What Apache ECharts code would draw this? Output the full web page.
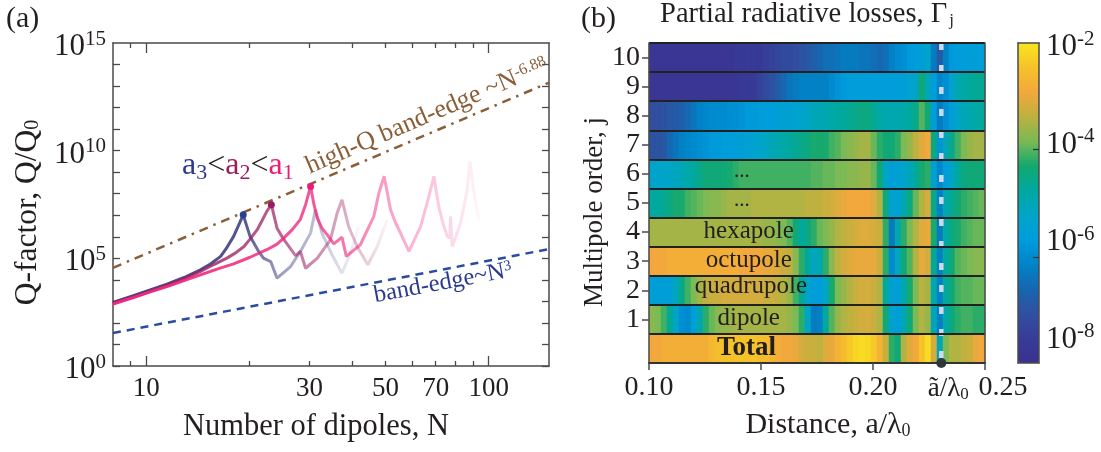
<!DOCTYPE html>
<html><head><meta charset="utf-8">
<style>html,body{margin:0;padding:0;background:#fff}#c{width:1101px;height:452px}</style>
<script src="https://cdn.jsdelivr.net/npm/echarts@6/dist/echarts.min.js"></script>
</head><body><div id="c"></div>
<script>
// ---------- panel (a) data: N and log10(Q/Q0) ----------
const a1N=[8,9.18,10.27,11.5,12.9,14.4,16.1,18.0,20.1,22.5,24.1,25.2,26.7,28.2,29.2,30.2,30.9,31.6,32.6,33.8,35.3,37.3,38.4,42.2,46.2,47.8,49.5,50.6,51.7,53.5,55.3,58.5,63.3,66.9,69.2,70.4,71.5,73.5,75.7,77.0,77.4,78.3,82.8,86.6,88.2,90.6,93.7];
const a1LogQ=[2.88,3.18,3.44,3.69,3.97,4.23,4.50,4.74,5.05,5.40,5.66,5.94,6.33,6.81,7.49,8.34,7.49,6.87,6.40,6.09,5.67,5.98,5.09,5.63,6.95,8.03,8.81,8.03,7.26,6.64,6.17,5.32,6.48,7.88,8.81,8.03,7.41,6.64,6.02,5.94,6.95,5.55,6.64,8.19,9.50,8.03,6.79];
const a2N=[8,9.60,11.5,12.9,14.4,15.7,17.2,18.2,19.3,20.1,21.1,21.8,22.5,23.2,24.1,24.9,25.5,27.3,28.2,29.2,31.6,34.5,36.1,37.3,39.0,41.3,44.4,47.3,50.6];
const a2LogQ=[2.91,3.30,3.74,4.05,4.39,4.70,5.01,5.24,5.55,5.89,6.33,6.76,7.18,7.49,6.40,6.02,5.78,5.12,5.32,4.54,5.01,5.86,7.10,7.72,6.48,5.55,4.70,5.55,6.79];
const a3N=[8,9.18,10.27,11.5,12.9,14.4,15.4,16.5,17.2,18.0,19.2,20.1,21.3,22.0,23.1,24.1,26.4,28.2,30.2,31.2,32.6,34.9,37.3,39.5,41.8];
const a3LogQ=[2.95,3.27,3.53,3.80,4.11,4.47,4.74,5.09,5.50,6.02,7.02,6.02,5.32,5.01,4.85,4.08,4.62,5.32,6.17,7.26,6.17,5.16,4.31,5.24,6.48];
const highQN=[8,150];
const highQLogQ=[4.56,13.16];
const bandEdgeN=[8,150];
const bandEdgeLogQ=[1.53,5.43];
const peakN=[19.2,23.2,30.2];
const peakLogQ=[7.02,7.49,8.34];
const xMajorTicks=[10,100];
const xMinorTicks=[9,20,30,40,50,60,70,80,90];
const xTickLabels=[10,30,50,70,100];
const yTickValues=[1,1e1,1e2,1e3,1e4,1e5,1e6,1e7,1e8,1e9,1e10,1e11,1e12,1e13,1e14];
const yTickLabels=[1,1e5,1e10,9.999e14];
// ---------- panel (b) data: log10(Gamma_j), one row per multipole order, 56 columns ----------
const rowNames=['Total','1','2','3','4','5','6','7','8','9','10'];
const rowTotal=[-3.0,-3.0,-2.9,-2.9,-2.9,-2.9,-2.9,-2.9,-2.9,-2.9,-2.7,-2.6,-2.5,-2.5,-2.5,-2.5,-2.5,-2.5,-2.6,-2.6,-2.8,-2.9,-3.0,-3.0,-3.1,-3.3,-3.4,-3.4,-3.5,-3.2,-3.1,-2.8,-2.6,-2.4,-2.2,-2.15,-2.2,-2.4,-2.8,-3.4,-4.4,-4.6,-3.6,-3.2,-3.0,-2.5,-2.15,-3.3,-5.3,-4.0,-3.6,-3.6,-3.5,-3.4,-3.1,-3.0];
const row1=[-3.9,-4.0,-4.3,-4.9,-5.5,-6.3,-6.4,-5.9,-5.2,-4.4,-4.1,-3.9,-3.8,-3.8,-3.7,-3.7,-3.7,-3.7,-3.7,-3.7,-3.7,-3.7,-3.7,-3.8,-4.0,-4.4,-5.5,-6.7,-6.6,-5.0,-4.2,-3.8,-3.6,-3.5,-3.4,-3.3,-3.3,-3.4,-3.6,-4.6,-5.7,-5.9,-5.3,-4.6,-4.0,-3.6,-3.8,-5.3,-6.6,-5.1,-4.7,-4.4,-4.3,-4.3,-4.4,-4.4];
const row2=[-5.9,-5.9,-5.9,-5.9,-5.4,-4.8,-4.3,-4.0,-3.7,-3.5,-3.4,-3.4,-3.3,-3.3,-3.3,-3.3,-3.3,-3.3,-3.3,-3.4,-3.4,-3.5,-3.6,-3.8,-4.3,-4.9,-5.6,-6.0,-6.0,-5.5,-4.5,-4.0,-3.8,-3.6,-3.4,-3.3,-3.3,-3.4,-3.6,-5.0,-5.8,-5.9,-5.2,-4.5,-4.0,-3.5,-3.7,-5.2,-6.6,-5.0,-4.6,-4.3,-4.2,-4.2,-4.1,-4.1];
const row3=[-3.0,-3.0,-3.0,-2.9,-2.9,-2.9,-2.9,-2.9,-2.9,-2.9,-2.9,-2.9,-2.9,-2.9,-2.9,-3.0,-3.0,-3.0,-3.0,-3.1,-3.1,-3.2,-3.4,-3.5,-3.9,-4.4,-5.0,-5.4,-5.2,-4.4,-3.9,-3.5,-3.3,-3.2,-3.1,-3.1,-3.1,-3.1,-3.4,-4.4,-6.4,-5.4,-4.6,-4.2,-3.6,-3.1,-3.3,-4.9,-6.6,-5.0,-4.6,-4.2,-4.1,-4.0,-3.9,-3.9];
const row4=[-3.7,-3.7,-3.7,-3.7,-3.7,-3.7,-3.7,-3.7,-3.7,-3.7,-3.7,-3.7,-3.7,-3.7,-3.7,-3.7,-3.7,-3.7,-3.7,-3.8,-3.8,-3.9,-4.0,-4.2,-4.6,-5.0,-4.7,-4.4,-4.1,-4.0,-3.8,-3.6,-3.5,-3.4,-3.3,-3.2,-3.2,-3.3,-3.4,-4.4,-6.7,-5.2,-4.4,-4.0,-3.6,-3.2,-3.1,-4.5,-6.7,-5.1,-4.7,-4.5,-4.3,-4.2,-4.1,-4.1];
const row5=[-5.0,-5.0,-4.9,-4.7,-4.5,-4.5,-4.3,-4.2,-4.1,-4.0,-3.9,-3.9,-3.8,-3.7,-3.7,-3.7,-3.7,-3.6,-3.6,-3.6,-3.6,-3.6,-3.6,-3.6,-3.6,-3.6,-3.5,-3.5,-3.5,-3.4,-3.3,-3.2,-3.1,-3.0,-3.0,-3.0,-3.0,-3.2,-3.6,-4.7,-5.7,-5.8,-5.2,-4.7,-4.1,-3.6,-3.3,-4.8,-6.6,-5.2,-4.9,-4.6,-4.4,-4.3,-4.2,-4.1];
const row6=[-5.6,-5.6,-5.6,-5.5,-5.4,-5.3,-5.1,-5.0,-4.8,-4.6,-4.6,-4.6,-4.6,-4.5,-4.4,-4.3,-4.3,-4.3,-4.3,-4.3,-4.3,-4.3,-4.3,-4.3,-4.3,-4.3,-4.3,-4.2,-4.2,-4.1,-4.1,-4.0,-4.0,-3.9,-3.9,-3.8,-3.8,-4.1,-4.6,-5.5,-5.9,-5.8,-5.6,-5.3,-5.0,-4.5,-4.4,-5.8,-6.5,-6.0,-5.5,-5.0,-4.7,-4.6,-4.6,-4.6];
const row7=[-7.5,-7.5,-7.4,-7.0,-6.8,-6.6,-6.5,-6.4,-6.3,-6.2,-6.1,-6.1,-6.0,-6.0,-5.9,-5.9,-5.8,-5.7,-5.6,-5.5,-5.3,-5.2,-5.1,-5.0,-4.9,-4.8,-4.7,-4.5,-4.5,-4.5,-4.3,-4.2,-4.0,-3.9,-3.8,-3.7,-3.7,-4.1,-4.4,-4.6,-4.6,-4.4,-4.0,-3.8,-3.5,-3.2,-3.0,-4.7,-6.2,-5.3,-4.8,-4.3,-4.0,-3.8,-3.7,-3.7];
const row8=[-7.6,-7.6,-7.5,-7.4,-7.3,-7.2,-7.0,-6.8,-6.6,-6.5,-6.4,-6.4,-6.4,-6.3,-6.3,-6.2,-6.1,-6.1,-6.0,-6.0,-6.0,-5.9,-5.8,-5.8,-5.7,-5.6,-5.5,-5.3,-5.3,-5.2,-5.1,-5.0,-5.0,-4.9,-4.8,-4.7,-4.7,-4.9,-5.1,-5.2,-5.2,-5.2,-5.1,-5.0,-4.8,-4.2,-4.6,-6.0,-6.7,-6.3,-5.9,-5.5,-5.3,-5.2,-5.1,-5.0];
const row9=[-8.3,-8.3,-8.3,-8.3,-8.3,-8.3,-8.3,-8.3,-8.3,-8.3,-8.3,-8.3,-8.3,-8.3,-8.3,-8.2,-8.2,-8.1,-7.9,-7.7,-7.5,-7.3,-7.0,-6.8,-6.7,-6.6,-6.6,-6.6,-6.6,-6.6,-6.4,-6.2,-6.1,-6.0,-6.0,-6.0,-6.0,-6.0,-6.0,-6.0,-6.0,-5.9,-5.9,-5.7,-5.5,-4.6,-5.3,-6.0,-6.5,-6.3,-5.7,-5.2,-5.1,-5.0,-4.9,-4.9];
const row10=[-8.3,-8.3,-8.3,-8.3,-8.3,-8.3,-8.3,-8.3,-8.3,-8.3,-8.3,-8.3,-8.3,-8.3,-8.2,-8.2,-8.1,-8.1,-8.2,-8.0,-7.9,-7.8,-7.7,-7.7,-7.6,-7.5,-7.4,-7.2,-7.1,-6.9,-6.9,-6.8,-6.7,-6.7,-6.7,-6.8,-6.8,-6.9,-7.0,-6.9,-6.6,-6.4,-6.3,-6.1,-6.0,-5.9,-5.6,-6.7,-7.3,-6.6,-6.1,-6.0,-6.0,-5.9,-5.9,-5.9];
const heatRows=[rowTotal,row1,row2,row3,row4,row5,row6,row7,row8,row9,row10];
const rowLabelText=['Total','dipole','quadrupole','octupole','hexapole','...','...'];
const rowLabelX=[0.1435,0.1445,0.1455,0.1445,0.1445,0.1415,0.1415];
const rowLabelY=[0.53,1.53,2.62,3.53,4.53,5.6,6.6];
const heatXTicks=[0.10,0.15,0.20,0.25];
const heatXLabels=[0.10,0.15,0.20,0.2305,0.25];
const aTilde=0.2305;
const cbLabels=[-8,-6,-4,-2];
const cbExtraTicks=[-6.39,-4.17];
const cbMin=-8.56, cbMax=-2;
const parula=['#3b3090','#373c98','#30509f','#1666b0','#0084c8','#009cdc','#00a5c8','#00a8a0','#12a86e','#79ba55','#bdb13f','#f2a83c','#f6c22a','#f9e51f'];

// ---------- helpers ----------
const FF='"Liberation Serif","Times New Roman",serif';
const INK='#231f20', AX='#4a4a4a';
const zip=(x,l)=>x.map((v,i)=>[v,Math.pow(10,l[i])]);
const supRich={b:{fontFamily:FF,fontSize:31,color:INK,padding:[8,0,0,0]},s:{fontFamily:FF,fontSize:21,color:INK,padding:[0,0,8,0]}};
const heatData=[];
const colCount=rowTotal.length;
const heatCats=[];
for(let c=0;c<colCount;c++)heatCats.push(c);
heatRows.forEach((r,j)=>r.forEach((v,i)=>heatData.push([i,j,v])));
const fade=(rgb,stops)=>({type:'linear',x:0,y:0,x2:1,y2:0,colorStops:stops.map(s=>({offset:s[0],color:'rgba('+rgb+','+s[1]+')'}))});
const lnX={show:true,onZero:false,lineStyle:{color:AX,width:1.5}};
const hid={show:false};

const xLog=(pos,ticks,len,labels)=>({type:'log',logBase:10,min:8,max:150,position:pos,gridIndex:0,
  axisLine:lnX,axisTick:{show:true,inside:true,length:len,customValues:ticks,lineStyle:{color:AX,width:1.3}},
  axisLabel:labels?{show:true,customValues:labels,margin:9,fontFamily:FF,fontSize:27,color:INK}:hid,splitLine:hid,minorTick:hid,minorSplitLine:hid});
const yLog=(pos,labelled)=>({type:'log',logBase:10,min:1,max:1e15,position:pos,gridIndex:0,
  axisLine:lnX,axisTick:{show:true,inside:true,length:7,customValues:yTickValues,lineStyle:{color:AX,width:1.3}},
  axisLabel:labelled?{show:true,customValues:yTickLabels,margin:7,formatter:v=>'{b|10}{s|'+Math.round(Math.log10(v))+'}',rich:supRich}:hid,
  splitLine:hid,minorTick:hid,minorSplitLine:hid,
  ...(labelled?{name:'Q-factor, Q/Q{sub|0}',nameLocation:'middle',nameGap:69,nameTextStyle:{fontFamily:FF,fontSize:31.5,color:INK,padding:[0,16,0,0],rich:{sub:{fontFamily:FF,fontSize:20,color:INK,padding:[10,0,0,0]}}}}:{})});

const option={
  animation:false,backgroundColor:'#fff',textStyle:{fontFamily:FF,color:INK},
  grid:[
    {left:113,top:43,width:436,height:323},
    {left:113,top:43,width:436,height:323},
    {left:649,top:43,width:336,height:320},
    {left:649,top:43,width:336,height:320},
    {left:1018,top:43,width:21,height:320}
  ],
  xAxis:[
    xLog('bottom',xMinorTicks,5,null),
    xLog('top',xMinorTicks,5,null),
    {...xLog('bottom',xMajorTicks,10,xTickLabels),gridIndex:1,axisLine:hid,
      name:'Number of dipoles, N',nameLocation:'middle',nameGap:45,nameTextStyle:{fontFamily:FF,fontSize:30.5,color:INK,padding:[0,30,0,0]}},
    {...xLog('top',xMajorTicks,10,null),gridIndex:1,axisLine:hid},
    {type:'category',gridIndex:2,data:heatCats,axisLine:hid,axisTick:hid,axisLabel:hid,splitLine:hid},
    {type:'value',gridIndex:3,min:0.1,max:0.25,position:'bottom',z:10,
      axisLine:{show:true,lineStyle:{color:'#333',width:2}},
      axisTick:{show:true,length:7,customValues:heatXTicks,lineStyle:{color:AX,width:1.5}},
      axisLabel:{show:true,customValues:heatXLabels,margin:11,hideOverlap:false,showMinLabel:true,showMaxLabel:true,fontFamily:FF,fontSize:28,color:INK,
        formatter:v=>Math.abs(v-aTilde)<1e-6?'{l|ã/λ}{u|0}':(Math.abs(v-0.25)<1e-6?'{r|0.25}':v.toFixed(2)),
        rich:{l:{fontFamily:FF,fontSize:27,color:INK,padding:[0,0,0,14]},u:{fontFamily:FF,fontSize:17,color:INK,padding:[12,0,0,0]},r:{fontFamily:FF,fontSize:28,color:INK,padding:[0,0,0,36]}}},
      splitLine:hid,
      name:'Distance, a/λ{sub|0}',nameLocation:'middle',nameGap:47,
      nameTextStyle:{fontFamily:FF,fontSize:30,color:INK,padding:[0,0,0,22],rich:{sub:{fontFamily:FF,fontSize:18,color:INK,padding:[12,0,0,0]}}}},
    {type:'value',gridIndex:4,min:0,max:1,position:'bottom',z:10,axisLine:{show:true,lineStyle:{color:AX,width:1.5}},axisTick:hid,axisLabel:hid,splitLine:hid},
    {type:'value',gridIndex:4,min:0,max:1,position:'top',z:10,axisLine:{show:true,lineStyle:{color:AX,width:1.5}},axisTick:hid,axisLabel:hid,splitLine:hid}
  ],
  yAxis:[
    yLog('left',true),
    yLog('right',false),
    {type:'log',logBase:10,min:1,max:1e15,gridIndex:1,show:false},
    {type:'category',gridIndex:2,data:rowNames,position:'left',axisLine:hid,
      axisTick:{show:true,alignWithLabel:true,length:7,interval:i=>i>0,lineStyle:{color:AX,width:1.5}},
      axisLabel:{show:true,interval:0,margin:9,fontFamily:FF,fontSize:28,color:INK,formatter:v=>v==='Total'?'':v},splitLine:hid,
      name:'Multipole order, j',nameLocation:'middle',nameGap:37,nameTextStyle:{fontFamily:FF,fontSize:27,color:INK,padding:[0,18,0,0]}},
    {type:'value',gridIndex:3,min:0,max:11,interval:1,position:'left',z:10,
      axisLine:{show:true,onZero:false,lineStyle:{color:AX,width:1.5}},axisTick:hid,axisLabel:hid,
      splitLine:{show:true,lineStyle:{color:'#222',width:2}}},
    {type:'value',gridIndex:3,min:0,max:11,interval:1,position:'right',z:10,
      axisLine:{show:true,onZero:false,lineStyle:{color:AX,width:1.5}},axisTick:hid,axisLabel:hid,splitLine:hid},
    {type:'value',gridIndex:4,min:cbMin,max:cbMax,position:'right',z:10,
      axisLine:{show:true,onZero:false,lineStyle:{color:AX,width:1.5}},
      axisTick:{show:true,inside:true,length:6,customValues:cbExtraTicks,lineStyle:{color:'#333',width:1.3}},
      axisLabel:{show:true,customValues:cbLabels,margin:7,formatter:v=>'{b|10}{s|'+v+'}',rich:supRich},splitLine:hid},
    {type:'value',gridIndex:4,min:cbMin,max:cbMax,position:'left',z:10,
      axisLine:{show:true,onZero:false,lineStyle:{color:AX,width:1.5}},axisTick:hid,axisLabel:hid,splitLine:hid}
  ],
  visualMap:{type:'continuous',min:cbMin,max:cbMax,seriesIndex:6,dimension:2,calculable:false,hoverLink:false,
    left:1018,top:43,padding:0,itemWidth:21,itemHeight:320,showLabel:false,inRange:{color:parula},textStyle:{fontSize:0}},
  series:[
    {type:'line',name:'high-Q band-edge',xAxisIndex:0,yAxisIndex:0,showSymbol:false,symbol:'none',data:zip(highQN,highQLogQ),
      lineStyle:{color:'#8a5f38',width:2.5,type:[9,6,2.5,6]},z:2},
    {type:'line',name:'band-edge',xAxisIndex:0,yAxisIndex:0,showSymbol:false,symbol:'none',data:zip(bandEdgeN,bandEdgeLogQ),
      lineStyle:{color:'#2a4b9e',width:2.5,type:[8,6]},z:2},
    {type:'line',name:'a3',xAxisIndex:0,yAxisIndex:0,showSymbol:false,symbol:'none',data:zip(a3N,a3LogQ),z:3,
      lineStyle:{width:3,color:fade('55,55,125',[[0,0.95],[0.53,0.85],[0.667,0.5],[0.82,0.32],[0.93,0.14],[1,0.02]])}},
    {type:'line',name:'a2',xAxisIndex:0,yAxisIndex:0,showSymbol:false,symbol:'none',data:zip(a2N,a2LogQ),z:4,
      lineStyle:{width:3,color:fade('155,30,95',[[0,0.95],[0.577,0.72],[0.70,0.55],[0.835,0.38],[0.93,0.2],[1,0.02]])}},
    {type:'line',name:'a1',xAxisIndex:0,yAxisIndex:0,showSymbol:false,symbol:'none',data:zip(a1N,a1LogQ),z:5,
      lineStyle:{width:3,color:fade('240,40,125',[[0,1],[0.54,0.78],[0.74,0.45],[0.877,0.25],[0.975,0.08],[1,0.02]])}},
    {type:'scatter',name:'peaks',xAxisIndex:0,yAxisIndex:0,symbolSize:7,z:6,data:zip(peakN,peakLogQ).map((p,i)=>({value:p,itemStyle:{opacity:1,color:['#27408f','#9a1d62','#ec1a7a'][i]}}))},
    {type:'heatmap',name:'Gamma_j',xAxisIndex:4,yAxisIndex:3,data:heatData,progressive:0,itemStyle:{borderWidth:0},z:1},
    {type:'scatter',name:'row labels',xAxisIndex:5,yAxisIndex:4,symbolSize:0,z:8,silent:true,itemStyle:{opacity:1},
      data:rowLabelText.map((t,i)=>({value:[rowLabelX[i],rowLabelY[i]],
        label:{show:true,position:'inside',formatter:t,fontFamily:FF,fontSize:t==='Total'?27:(t==='...'?21:25),fontWeight:t==='Total'?'bold':'normal',color:INK}}))},
    {type:'line',name:'a tilde',xAxisIndex:5,yAxisIndex:4,showSymbol:false,symbol:'none',z:7,data:[[aTilde,11],[aTilde,0]],
      lineStyle:{color:'#ccdaee',width:4.5,type:[7,15]}},
    {type:'scatter',name:'a tilde dot',xAxisIndex:5,yAxisIndex:4,symbolSize:10,z:9,clip:false,data:[[aTilde,0]],itemStyle:{color:'#2f3a3f',opacity:1}}
  ],
  graphic:[
    {type:'text',x:6,y:4,style:{text:'(a)',fontFamily:FF,fontSize:30,fill:INK}},
    {type:'text',x:581,y:4,style:{text:'(b)',fontFamily:FF,fontSize:30,fill:INK}},
    {type:'text',x:807,y:15,style:{text:'Partial radiative losses, {g|Γ}{j|j}',align:'center',verticalAlign:'middle',fontFamily:FF,fontSize:28.5,fill:INK,
      rich:{g:{fontFamily:FF,fontSize:28.5,fill:INK},j:{fontFamily:FF,fontSize:17,fill:INK,padding:[12,0,0,2]}}}},
    {type:'text',x:182,y:166,style:{text:'{a|a}{as|3}{k|<}{b|a}{bs|2}{k|<}{c|a}{cs|1}',verticalAlign:'middle',
      rich:{a:{fontFamily:FF,fontSize:32,fill:'#2b3a8f'},as:{fontFamily:FF,fontSize:22,fill:'#2b3a8f',padding:[14,0,0,0]},
        b:{fontFamily:FF,fontSize:32,fill:'#9a1d62'},bs:{fontFamily:FF,fontSize:22,fill:'#9a1d62',padding:[14,0,0,0]},
        c:{fontFamily:FF,fontSize:32,fill:'#ec1a7a'},cs:{fontFamily:FF,fontSize:22,fill:'#ec1a7a',padding:[14,0,0,0]},
        k:{fontFamily:FF,fontSize:32,fill:INK}}}},
    {type:'text',x:427,y:116,rotation:0.405,style:{text:'high-Q band-edge ~N{s|-6.88}',align:'center',verticalAlign:'middle',fontFamily:FF,fontSize:26,fill:'#8a5f38',
      rich:{s:{fontFamily:FF,fontSize:16,fill:'#8a5f38',padding:[0,0,9,0]}}}},
    {type:'text',x:443,y:283,rotation:0.186,style:{text:'band-edge~N{s|3}',align:'center',verticalAlign:'middle',fontFamily:FF,fontSize:24.5,fill:'#2b3a8f',
      rich:{s:{fontFamily:FF,fontSize:15,fill:'#2b3a8f',padding:[0,0,9,0]}}}}
  ]
};
const chart=echarts.init(document.getElementById('c'),null,{renderer:'canvas',width:1101,height:452});
chart.setOption(option);
</script></body></html>
